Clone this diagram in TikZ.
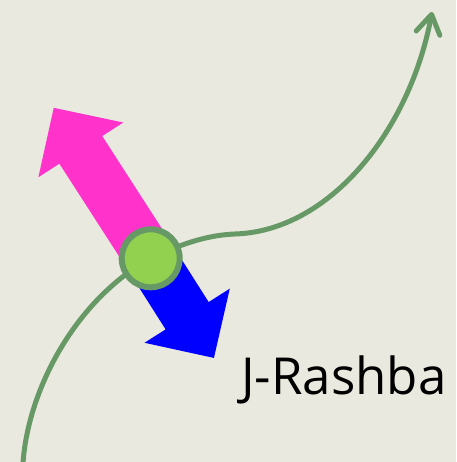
\documentclass[tikz,border=0pt]{standalone}
\usepackage{fontspec}
\setmainfont{Open Sans}
\usetikzlibrary{arrows.meta}
\definecolor{bgbeige}{HTML}{EAE9DF}
\definecolor{pathgreen}{HTML}{669966}
\definecolor{dotgreen}{HTML}{92D050}
\definecolor{spinpink}{HTML}{FF33CC}
\definecolor{spinblue}{HTML}{0000FF}
\tikzset{
  trajectory/.style={draw=pathgreen, line width=5pt, line cap=round,
    -{Straight Barb[length=19pt, width=24pt, line cap=round, line join=round]}},
  particle/.style={circle, draw=pathgreen, line width=6pt, fill=dotgreen,
    minimum size=58pt, inner sep=0pt},
  label/.style={font=\fontsize{51}{60}\selectfont, anchor=base west, inner sep=0pt},
}
% block arrow along the local x axis: shaft from 0 to #1-50, head to #1
\newcommand{\blockarrow}[1]{%
  (0,-25.5) -- ({#1-50},-25.5) -- ({#1-50},-50.5) -- (#1,0) --
  ({#1-50},50.5) -- ({#1-50},25.5) -- (0,25.5) -- cycle}
\begin{document}
\begin{tikzpicture}[x=1pt, y=-1pt]
  \fill[bgbeige] (0,0) rectangle (456,462);
  \useasboundingbox (0,0) rectangle (456,462);

  \coordinate (start) at (23,463);
  \coordinate (bend) at (235,234);
  \coordinate (finish) at (432,12);
  \coordinate (centre) at (150.7,258.3);

  % trajectory through the particle
  \draw[trajectory] (start) .. controls (28,390) and (75,300) .. (centre)
    .. controls (185,242) and (210,235) .. (bend)
    .. controls (330,231) and (410,130) .. (finish);

  % spin arrows
  \fill[spinpink, shift={(centre)}, rotate=122.8] \blockarrow{179};
  \fill[spinblue, shift={(centre)}, rotate=-57.6] \blockarrow{118};

  \node[particle] (dot) at (centre) {};

  \node[label] (name) at (241,394) {J-Rashba};
\end{tikzpicture}
\end{document}
